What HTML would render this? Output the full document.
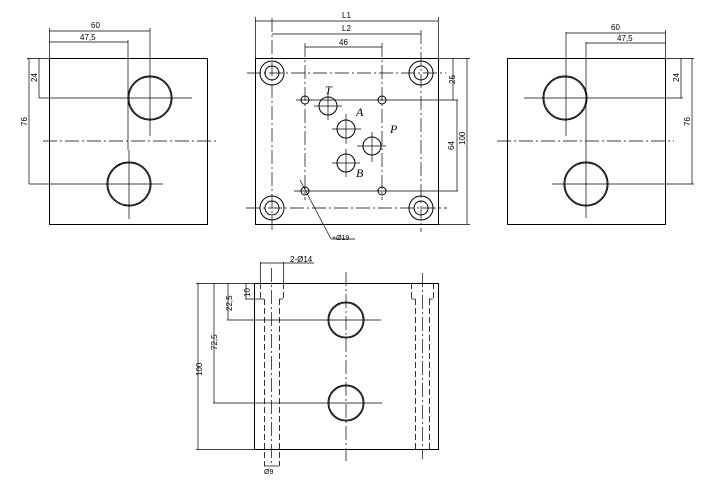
<!DOCTYPE html>
<html><head><meta charset="utf-8"><style>
html,body{margin:0;padding:0;background:#fff;width:719px;height:491px;overflow:hidden}
svg{display:block}
text{font-family:"Liberation Sans",sans-serif;font-size:8px;fill:#000}
.l{stroke:#000;stroke-width:1;fill:none}
.t{stroke:#000;stroke-width:0.7;fill:none}
.c{stroke:#000;stroke-width:0.7;fill:none;stroke-dasharray:14 3 2 3}
.d{stroke:#000;stroke-width:0.8;fill:none;stroke-dasharray:6 3}
.it{font-family:"Liberation Serif",serif;font-style:italic;font-size:12px}
</style></head><body>
<svg width="719" height="491" viewBox="0 0 719 491">
<!-- LEFT VIEW -->
<rect class="l" x="49.5" y="58.5" width="158" height="166"/>
<circle class="l" cx="150" cy="98" r="22"/><circle class="t" cx="150" cy="98" r="21"/>
<circle class="l" cx="129" cy="184" r="22"/><circle class="t" cx="129" cy="184" r="21"/>
<line class="t" x1="39" y1="98" x2="192" y2="98"/>
<line class="t" x1="150" y1="28" x2="150" y2="136"/>
<line class="t" x1="128" y1="40" x2="128" y2="150"/><line class="t" x1="129" y1="150" x2="129" y2="219"/>
<line class="c" x1="43" y1="141" x2="218" y2="141"/>
<line class="t" x1="29" y1="184" x2="163" y2="184"/>
<line class="t" x1="49.5" y1="28" x2="49.5" y2="58"/>
<line class="t" x1="49" y1="31" x2="150" y2="31"/><text x="91" y="28">60</text>
<line class="t" x1="49" y1="42" x2="128" y2="42"/><text x="80" y="40">47,5</text>
<line class="t" x1="39" y1="58" x2="39" y2="98"/><text transform="translate(37,82) rotate(-90)">24</text>
<line class="t" x1="29" y1="58" x2="29" y2="184"/><text transform="translate(27,126) rotate(-90)">76</text>
<line class="t" x1="27" y1="58.5" x2="50" y2="58.5"/>
<!-- RIGHT VIEW -->
<rect class="l" x="507.5" y="58.5" width="158" height="166"/>
<circle class="l" cx="565" cy="98" r="22"/><circle class="t" cx="565" cy="98" r="21"/>
<circle class="l" cx="586" cy="184" r="22"/><circle class="t" cx="586" cy="184" r="21"/>
<line class="t" x1="524" y1="98" x2="683" y2="98"/>
<line class="t" x1="566" y1="32" x2="566" y2="136"/>
<line class="t" x1="586" y1="42" x2="586" y2="218"/>
<line class="c" x1="497" y1="141" x2="674" y2="141"/>
<line class="t" x1="552" y1="184" x2="694" y2="184"/>
<line class="t" x1="665.5" y1="30" x2="665.5" y2="58"/>
<line class="t" x1="566" y1="33" x2="665" y2="33"/><text x="611" y="30">60</text>
<line class="t" x1="586" y1="43" x2="665" y2="43"/><text x="617" y="41">47,5</text>
<line class="t" x1="665" y1="58.5" x2="694" y2="58.5"/>
<line class="t" x1="681" y1="58" x2="681" y2="98"/><text transform="translate(679,82) rotate(-90)">24</text>
<line class="t" x1="692" y1="58" x2="692" y2="184"/><text transform="translate(690,126) rotate(-90)">76</text>
<!-- TOP VIEW -->
<rect class="l" x="255.5" y="58.5" width="183" height="166"/>
<g>
<circle class="l" cx="272" cy="73" r="12"/><circle class="l" cx="272" cy="73" r="7"/>
<circle class="l" cx="421" cy="73" r="12"/><circle class="l" cx="421" cy="73" r="7"/>
<circle class="l" cx="272" cy="208" r="12"/><circle class="l" cx="272" cy="208" r="7"/>
<circle class="l" cx="421" cy="208" r="12"/><circle class="l" cx="421" cy="208" r="7"/>
<circle class="l" cx="305" cy="100" r="4"/><circle class="l" cx="382" cy="100" r="4"/>
<circle class="l" cx="305" cy="191" r="4"/><circle class="l" cx="382" cy="191" r="4"/>
<circle class="l" cx="328" cy="106" r="9"/><circle class="l" cx="346" cy="129" r="9"/>
<circle class="l" cx="372" cy="146" r="9"/><circle class="l" cx="346" cy="163" r="9"/>
</g>
<line class="c" x1="247" y1="73" x2="446" y2="73"/>
<line class="c" x1="246" y1="208" x2="447" y2="208"/>
<line class="c" x1="272" y1="18" x2="272" y2="230"/>
<line class="c" x1="421" y1="30" x2="421" y2="232"/>
<line class="t" x1="296" y1="100" x2="458" y2="100"/>
<line class="t" x1="294" y1="191" x2="458" y2="191"/>
<line class="c" x1="305" y1="43" x2="305" y2="200"/>
<line class="c" x1="382" y1="43" x2="382" y2="200"/>
<line class="t" x1="314" y1="106" x2="342" y2="106"/><line class="t" x1="328" y1="92" x2="328" y2="120"/>
<line class="t" x1="332" y1="129" x2="361" y2="129"/><line class="t" x1="346" y1="114" x2="346" y2="144"/>
<line class="t" x1="357" y1="146" x2="386" y2="146"/><line class="t" x1="372" y1="132" x2="372" y2="162"/>
<line class="t" x1="332" y1="163" x2="360" y2="163"/><line class="t" x1="346" y1="149" x2="346" y2="177"/>
<text class="it" x="325" y="94">T</text><text class="it" x="356" y="116">A</text>
<text class="it" x="390" y="133">P</text><text class="it" x="356" y="177">B</text>
<line class="t" x1="255.5" y1="17" x2="255.5" y2="58"/><line class="t" x1="438.5" y1="17" x2="438.5" y2="58"/>
<line class="t" x1="255" y1="21" x2="438" y2="21"/><text x="342" y="18">L1</text>
<line class="t" x1="272" y1="34" x2="421" y2="34"/><text x="342" y="31">L2</text>
<line class="t" x1="305" y1="47" x2="382" y2="47"/><text x="339" y="45">46</text>
<line class="t" x1="438" y1="58.5" x2="470" y2="58.5"/><line class="t" x1="438" y1="224.5" x2="470" y2="224.5"/>
<line class="t" x1="453" y1="58" x2="453" y2="100"/><text transform="translate(455,84) rotate(-90)">25</text>
<line class="t" x1="457" y1="100" x2="457" y2="191"/><text transform="translate(454,150) rotate(-90)">64</text>
<line class="t" x1="467" y1="58" x2="467" y2="224"/><text transform="translate(465,145) rotate(-90)">100</text>
<line class="t" x1="300" y1="180" x2="331" y2="239"/><line class="t" x1="331" y1="239" x2="355" y2="239"/>
<text x="332" y="240" style="font-size:7px">+Ø19</text>
<!-- BOTTOM VIEW -->
<rect class="l" x="254.5" y="283.5" width="184" height="166"/>
<circle class="l" cx="346" cy="320" r="18"/><circle class="t" cx="346" cy="320" r="17"/>
<circle class="l" cx="346" cy="403" r="18"/><circle class="t" cx="346" cy="403" r="17"/>
<line class="c" x1="346" y1="272" x2="346" y2="461"/>
<line class="t" x1="227" y1="320" x2="381" y2="320"/>
<line class="t" x1="213" y1="403" x2="382" y2="403"/>
<line class="d" x1="260.5" y1="283" x2="260.5" y2="299"/><line class="d" x1="283.5" y1="283" x2="283.5" y2="299"/>
<line class="t" x1="245" y1="299" x2="264" y2="299"/><line class="t" x1="279" y1="299" x2="283" y2="299"/>
<line class="d" x1="264.5" y1="299" x2="264.5" y2="466"/><line class="d" x1="279.5" y1="299" x2="279.5" y2="466"/>
<line class="c" x1="271.5" y1="268" x2="271.5" y2="465"/>
<line class="d" x1="411.5" y1="283" x2="411.5" y2="299"/><line class="d" x1="433.5" y1="283" x2="433.5" y2="299"/>
<line class="t" x1="411" y1="299" x2="415" y2="299"/><line class="t" x1="429" y1="299" x2="433" y2="299"/>
<line class="d" x1="415.5" y1="299" x2="415.5" y2="449"/><line class="d" x1="429.5" y1="299" x2="429.5" y2="449"/>
<line class="c" x1="422.5" y1="273" x2="422.5" y2="459"/>
<line class="t" x1="260.5" y1="262" x2="260.5" y2="283"/><line class="t" x1="283.5" y1="262" x2="283.5" y2="283"/>
<line class="t" x1="260" y1="263" x2="314" y2="263"/><text x="290" y="262">2-Ø14</text>
<line class="t" x1="196" y1="283.5" x2="255" y2="283.5"/><line class="t" x1="196" y1="449.5" x2="255" y2="449.5"/>
<line class="t" x1="198" y1="283" x2="198" y2="449"/><text transform="translate(202,376) rotate(-90)">100</text>
<line class="t" x1="214" y1="283" x2="214" y2="403"/><text transform="translate(217,350) rotate(-90)">72,5</text>
<line class="t" x1="228" y1="283" x2="228" y2="320"/><text transform="translate(232,311) rotate(-90)">22,5</text>
<line class="t" x1="246" y1="283" x2="246" y2="299"/><text transform="translate(250,297) rotate(-90)">10</text>
<line class="t" x1="264" y1="466" x2="279" y2="466"/><text x="264" y="474" style="font-size:7px">Ø9</text>
</svg>
</body></html>
